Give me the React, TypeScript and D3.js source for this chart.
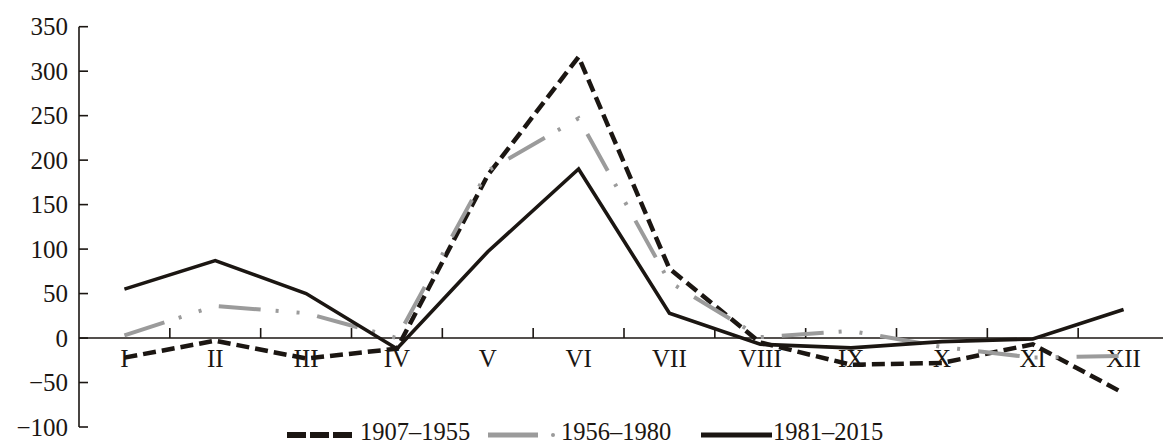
import React from "react";
import * as d3 from "d3";

// Months (Roman numerals) and the three period series
const months: string[] = ["I", "II", "III", "IV", "V", "VI", "VII", "VIII", "IX", "X", "XI", "XII"];
const series1907: number[] = [-22, -3, -23, -12, 183, 316, 78, -5, -30, -28, -7, -62];
const series1956: number[] = [3, 36, 28, 0, 188, 247, 63, 1, 8, -10, -22, -20];
const series1981: number[] = [55, 87, 50, -12, 97, 190, 28, -7, -11, -4, -1, 32];
const yTicks: number[] = [-100, -50, 0, 50, 100, 150, 200, 250, 300, 350];
const legendLabels: string[] = ["1907\u20131955", "1956\u20131980", "1981\u20132015"];

const width = 1163;
const height = 446;
const marginLeft = 79;
const marginTop = 26.7;
const plotBottom = 427;
const ink = "#1b1612";
const grey = "#9b9b9b";
const font = "'Liberation Serif', 'Times New Roman', serif";

const App: React.FC = () => {
    const xScale = d3.scaleBand<string>().domain(months).range([marginLeft, 1169]);
    const yScale = d3.scaleLinear().domain([-100, 350]).range([plotBottom, marginTop]);
    const cx = (m: string) => xScale(m)! + xScale.bandwidth() / 2;

    const line = d3.line<number>()
        .x((_, i) => cx(months[i]))
        .y(d => yScale(d));

    const fmt = (v: number) => (v < 0 ? "\u2212" + Math.abs(v) : String(v));

    const styles = [
        { data: series1907, stroke: ink, width: 4.5, dash: "13,6" },
        { data: series1956, stroke: grey, width: 4, dash: "42,15,3,18,3,18" },
        { data: series1981, stroke: ink, width: 3.6, dash: undefined },
    ];

    return (
        <svg width={width} height={height} style={{ position: "absolute", left: 0, top: 0, background: "#fff" }}>
            {/* Y axis */}
            <line x1={marginLeft} x2={marginLeft} y1={yScale(350)} y2={yScale(-100)} stroke={ink} strokeWidth={1.6} />
            {yTicks.map(t => (
                <g key={t}>
                    <line x1={marginLeft} x2={marginLeft + 9} y1={yScale(t)} y2={yScale(t)} stroke={ink} strokeWidth={1.6} />
                    <text x={68} y={yScale(t)} dy="0.34em" textAnchor="end" fontFamily={font} fontSize={25} fill={ink}>
                        {fmt(t)}
                    </text>
                </g>
            ))}

            {/* X axis on zero */}
            <line x1={marginLeft} x2={width} y1={yScale(0)} y2={yScale(0)} stroke={ink} strokeWidth={1.6} />
            {months.slice(1).map(m => (
                <line key={m} x1={xScale(m)!} x2={xScale(m)!} y1={yScale(0)} y2={yScale(0) - 10} stroke={ink} strokeWidth={1.6} />
            ))}
            {months.map(m => (
                <text key={m} x={cx(m)} y={367} textAnchor="middle" fontFamily={font} fontSize={25} fill={ink}>
                    {m}
                </text>
            ))}

            {/* Series lines */}
            {styles.map((s, i) => (
                <path key={i} d={line(s.data)!} fill="none" stroke={s.stroke} strokeWidth={s.width}
                    strokeDasharray={s.dash} strokeLinejoin="miter" />
            ))}

            {/* Legend */}
            <g fontFamily={font} fontSize={24.5} fill={ink}>
                <line x1={287} x2={352} y1={435} y2={435} stroke={ink} strokeWidth={6} strokeDasharray="19,4" />
                <text x={360} y={440}>{legendLabels[0]}</text>
                <line x1={488} x2={538} y1={435} y2={435} stroke={grey} strokeWidth={5} />
                <circle cx={553} cy={435} r={2} fill={grey} />
                <text x={561} y={440}>{legendLabels[1]}</text>
                <line x1={701} x2={772} y1={435} y2={435} stroke={ink} strokeWidth={5} />
                <text x={773} y={440}>{legendLabels[2]}</text>
            </g>
        </svg>
    );
};

export default App;
